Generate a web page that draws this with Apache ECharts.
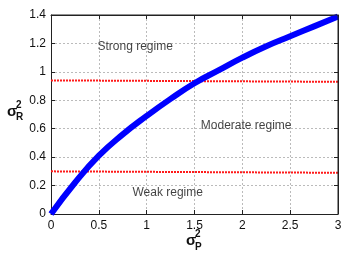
<!DOCTYPE html>
<html><head><meta charset="utf-8">
<script src="https://cdn.jsdelivr.net/npm/echarts@6/dist/echarts.min.js"></script>
<style>html,body{margin:0;padding:0;background:#fff}#c{width:347px;height:259px}</style>
</head><body><div id="c"></div>
<script>
const xTicks = [0, 0.5, 1, 1.5, 2, 2.5, 3];
const yTicks = [0, 0.2, 0.4, 0.6, 0.8, 1, 1.2, 1.4];
const curveX = [0, 0.25, 0.5, 0.75, 1, 1.25, 1.5, 1.75, 2, 2.25, 2.5, 2.75, 3];
const curveY = [0, 0.22, 0.41, 0.56, 0.69, 0.81, 0.92, 1.01, 1.10, 1.18, 1.25, 1.32, 1.39];
const strongX = [0, 3];
const strongY = [0.94, 0.93];
const weakX = [0, 3];
const weakY = [0.30, 0.29];
const regimes = [
  {name: 'Strong regime', x: 0.88, y: 1.175},
  {name: 'Moderate regime', x: 2.04, y: 0.62},
  {name: 'Weak regime', x: 1.22, y: 0.15}
];
const font = 'Liberation Sans, Arial, sans-serif';
const pair = (xs, ys) => xs.map((x, i) => [x, ys[i]]);
const chart = echarts.init(document.getElementById('c'));
const grid = {left: 51, right: 9, top: 15, bottom: 45};
const axisCommon = () => ({
  min: 0,
  axisLine: {show: true, onZero: false, lineStyle: {color: '#222', width: 1}},
  axisTick: {show: true, inside: true, length: 4, lineStyle: {color: '#222'}},
});
chart.setOption({
  animation: false,
  grid: grid,
  xAxis: [
    Object.assign(axisCommon(), {type: 'value', max: 3, interval: 0.5, position: 'bottom',
      axisLabel: {color: '#111', fontSize: 12, fontFamily: font, margin: 6,
        formatter: v => xTicks.includes(v) ? String(v) : ''},
      splitLine: {show: true, lineStyle: {color: '#bbb', type: [2, 2], width: 1}}}),
    Object.assign(axisCommon(), {type: 'value', max: 3, interval: 0.5, position: 'top',
      axisLabel: {show: false}, splitLine: {show: false}})
  ],
  yAxis: [
    Object.assign(axisCommon(), {type: 'value', max: 1.4, interval: 0.2, position: 'left',
      axisLabel: {color: '#111', fontSize: 12, fontFamily: font, margin: 5,
        formatter: v => { const t = yTicks.find(k => Math.abs(k - v) < 1e-6); return t === undefined ? '' : String(t); }},
      splitLine: {show: true, lineStyle: {color: '#bbb', type: [2, 2], width: 1}}}),
    Object.assign(axisCommon(), {type: 'value', max: 1.4, interval: 0.2, position: 'right',
      axisLabel: {show: false}, splitLine: {show: false}})
  ],
  series: [
    {type: 'line', data: pair(strongX, strongY), symbol: 'none', lineStyle: {color: '#ff1a1a', width: 2, type: [2, 1]}},
    {type: 'line', data: pair(weakX, weakY), symbol: 'none', lineStyle: {color: '#ff1a1a', width: 2, type: [2, 1]}},
    {type: 'line', data: pair(curveX, curveY), symbol: 'none', smooth: true, lineStyle: {color: '#0000ff', width: 6}},
    {type: 'scatter', data: regimes.map(r => [r.x, r.y, r.name]), symbolSize: 0,
      label: {show: true, position: 'inside', formatter: p => p.data[2], color: '#111', fontSize: 12, fontFamily: font}}
  ],
  graphic: [
    {type: 'text', left: 7, top: 104, style: {text: 'σ', font: 'bold 15px ' + font, fill: '#111'}},
    {type: 'text', left: 16, top: 100, style: {text: '2', font: 'bold 10px ' + font, fill: '#111'}},
    {type: 'text', left: 16, top: 112, style: {text: 'R', font: 'bold 10px ' + font, fill: '#111'}},
    {type: 'text', left: 186, top: 233, style: {text: 'σ', font: 'bold 15px ' + font, fill: '#111'}},
    {type: 'text', left: 195, top: 229, style: {text: '2', font: 'bold 10px ' + font, fill: '#111'}},
    {type: 'text', left: 195, top: 242, style: {text: 'P', font: 'bold 10px ' + font, fill: '#111'}}
  ]
});
// frame from the library's own scale
const p0 = chart.convertToPixel({xAxisIndex: 0, yAxisIndex: 0}, [0, 0]);
const p1 = chart.convertToPixel({xAxisIndex: 0, yAxisIndex: 0}, [3, 1.4]);
chart.setOption({
  graphic: [
    {type: 'text', left: 7, top: 104, style: {text: 'σ', font: 'bold 15px ' + font, fill: '#111'}},
    {type: 'text', left: 16, top: 100, style: {text: '2', font: 'bold 10px ' + font, fill: '#111'}},
    {type: 'text', left: 16, top: 112, style: {text: 'R', font: 'bold 10px ' + font, fill: '#111'}},
    {type: 'text', left: 186, top: 233, style: {text: 'σ', font: 'bold 15px ' + font, fill: '#111'}},
    {type: 'text', left: 195, top: 229, style: {text: '2', font: 'bold 10px ' + font, fill: '#111'}},
    {type: 'text', left: 195, top: 242, style: {text: 'P', font: 'bold 10px ' + font, fill: '#111'}},
    {type: 'polyline', silent: true, z: 10,
      shape: {points: [[p0[0], p1[1]], [p1[0], p1[1]], [p1[0], p0[1]]]},
      style: {stroke: '#222', lineWidth: 1, fill: null}}
  ]
});
</script></body></html>
